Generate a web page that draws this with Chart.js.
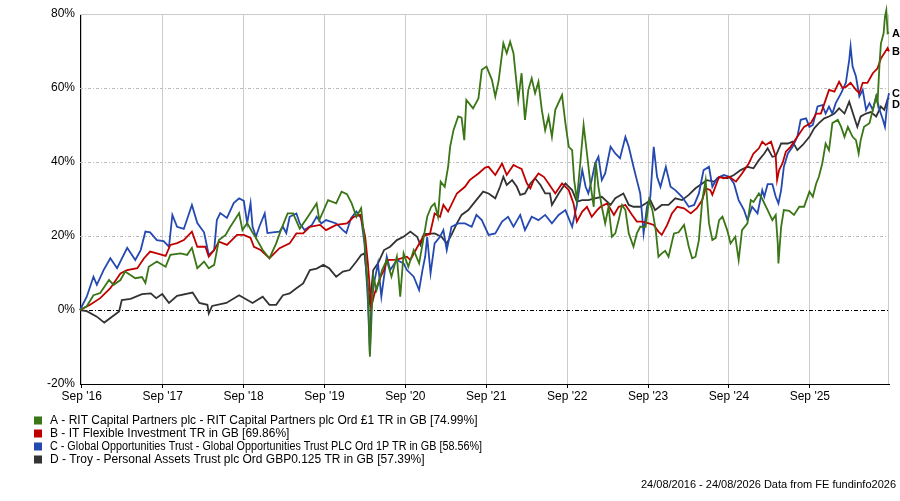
<!DOCTYPE html>
<html>
<head>
<meta charset="utf-8">
<script src="https://cdn.jsdelivr.net/npm/chart.js@4.4.1/dist/chart.umd.min.js"></script>
<style>
  html, body { margin: 0; padding: 0; background: #fff; }
  canvas { display: block; }
</style>
</head>
<body>
<canvas id="myChart" width="900" height="501"></canvas>
<script>
// x values are months since 24/08/2016, y values are cumulative total return in %
const tickMonths = [0.26, 12.26, 24.26, 36.26, 48.26, 60.26, 72.26, 84.26, 96.26, 108.26];
const tickLabels = ["Sep '16", "Sep '17", "Sep '18", "Sep '19", "Sep '20", "Sep '21", "Sep '22", "Sep '23", "Sep '24", "Sep '25"];
const yTicks = [-20, 0, 20, 40, 60, 80];

// A - RIT Capital Partners
const ritMonths = [0,1,2,3,4.3,5,6,6.7,8.2,9.2,9.7,10.2,11.4,12.7,13.4,14.9,15.9,16.6,17.4,18.4,19.1,19.9,20.6,21.6,22.3,23.6,24.1,24.8,25.5,26,27.1,28.1,29.1,29.8,30.8,31.6,32.6,33.8,35.1,35.5,36.8,38,38.8,39.6,40.3,41,41.7,42.2,42.7,43,43.5,44,44.8,45.5,46.2,47,47.5,48,48.7,49.5,50.3,51,51.5,52.1,52.6,53.1,53.5,54.1,54.6,54.9,55.4,56.1,56.6,57,57.3,58.3,59.1,59.6,60.3,61.1,61.6,62.1,62.8,63.3,63.8,64.3,65,65.5,66,66.5,67,67.5,68,68.5,69,69.5,70,70.5,71.5,72,72.5,73,73.3,73.7,74.2,74.7,75.2,75.7,76.2,76.5,76.9,77.4,77.9,78.4,78.9,79.4,79.9,80.4,80.9,81.4,82.1,82.6,83.1,83.9,84.4,84.9,85.4,85.8,86.3,86.8,87.3,88.1,88.8,89.6,90.3,90.8,91.3,91.8,92.3,92.8,93.3,93.8,94.3,94.8,95.3,96,96.5,97.2,97.7,98.2,99,99.5,99.9,100.7,101.2,102,102.7,103.2,103.5,103.6,104,104.4,105.2,105.9,106.7,107.4,108.2,108.7,109.2,109.6,110.1,110.6,111.1,111.6,112.4,112.9,113.4,113.9,114.6,115.1,115.5,115.8,116.3,117.1,117.6,118.1,118.3,118.6,118.8,119.2,119.4,119.6,119.8,120];
const ritValues = [0,1,4,4.6,8.1,6.8,8.1,10.4,8.6,8.9,7.3,11.7,13.1,11.7,14.9,15.3,14.9,16.8,11.3,13.1,11.3,12.2,18.9,20.3,22.5,26.2,21.6,23.5,21.2,19.8,16.2,14,18,21.6,26.1,26.1,22,25.2,28.8,24.3,29.7,28.8,32,31.3,28.8,25.2,27.5,18.9,6.3,-12.6,9,5.4,10.8,13.5,9,14.4,3.6,15.3,11.7,16.2,12.6,19.8,25.2,27.9,28.8,25.2,34.7,33.3,38.7,44.1,48.6,52.3,52,45.9,56.8,54.5,57.2,64.9,65.8,62.2,57.7,62,72.1,69.4,72.5,69.4,56.8,64,51.4,59.5,62.6,58.6,61.7,54.1,48.6,52.3,46.8,54.1,58.1,50.5,44.1,43.2,35.1,29.7,39.6,50,42.3,34.2,27.9,40,33.3,27.9,23.4,27.9,19.8,20.7,24.3,28.4,27,20.7,17.1,20.7,22.5,22.5,29.7,27,21.6,14.4,15.3,16,14.4,20.7,21,23,17.1,14,14.4,18.9,29.7,35.1,23.4,18.9,19.5,24.3,25.2,21.6,18,19.8,13.5,21.6,23.4,29.7,29.2,31.5,30,27,24.3,25.7,18,12.6,22.5,27,26.8,25.7,27.9,27.9,32,30.6,34.2,36,39.6,45,43.2,50.5,51.4,49.5,46.8,49.5,46.8,45.9,42.3,45.9,49.5,50.5,54.1,57.7,55.9,66.7,72,74.8,79.3,81,74.8,75];

// B - IT Flexible Investment
const flexMonths = [0,1.5,3,4.5,6,7,8.5,9.5,10.4,11.4,12.7,13.4,14.4,15.4,16.6,17.4,18.6,19.1,19.9,20.6,21.8,23.3,24.3,25.3,25.8,26.8,28.1,29.6,31.1,32.1,33.1,34.1,35.6,36.5,38,39.6,40.6,41.6,42.3,42.7,43.2,43.7,44.6,45.1,45.5,47,48.5,49,50,51,51.9,52.6,53.4,53.9,54.6,55.9,57.1,57.8,59.1,60.1,60.6,61.6,62.6,63.3,64.3,64.8,65.5,66.3,66.8,67.3,68,68.8,69.5,70.5,71.5,72.5,73.2,73.7,74.5,75.2,75.9,76.7,77.2,78.2,79.2,79.9,80.9,81.9,82.6,83.4,84.4,85.1,85.8,86.3,87.1,87.8,88.6,89.6,90.6,91.5,92.3,92.8,93.5,93.8,94.8,95.5,96.3,97.3,98.2,99.2,99.9,100.7,101.2,101.7,102.5,103.2,103.4,103.7,104.2,104.7,105.4,106.4,107.4,108.4,109.2,109.9,110.6,111.1,111.9,112.6,113.1,113.6,114.3,115.1,115.6,116.1,116.8,117.6,118.3,118.8,119.3,119.8,120];
const flexValues = [0,1.4,3.2,5.9,9.9,10.8,11.3,14,15.8,15.3,14.6,17.6,18.1,18.9,21.2,17.1,17.1,14.4,16.2,18.5,17.6,20.3,20.3,19.5,17.1,16.2,14,16.7,18,20.7,20.7,22.5,23,21.6,23,23.4,25.2,25.7,19.8,12.6,0.9,4.5,9,10.8,13.5,13.6,14.4,13.5,16.9,20.1,20.5,26.1,25.2,28.4,26.6,31.5,33.3,35.1,36.9,38.5,38.7,36.5,39.6,36.5,39.2,38.7,38.1,34.2,32.9,35.1,36.9,36,34.2,31.5,34.2,32.4,28.8,23.9,26.6,27.9,25.2,27,27.9,28.8,25.7,27.9,28.4,25.7,23.9,23.9,23.4,23,21.2,20.3,23,26.1,27.9,27.5,26.1,27.5,29.7,32.9,32.4,31.1,36,35.6,36,34.7,36.9,39.6,42.3,43.7,45.5,44.6,45.5,41.4,35.1,37.8,39.6,42.8,44.1,46.8,49.5,50.5,53.1,53.1,56.8,59.5,59,61.7,60,60.3,61.4,59.5,58.6,61.4,61.4,64,65.3,68,69.4,70.8,69.9];

// C - Global Opportunities Trust
const gotMonths = [0,1,2,2.5,3.5,4.5,5.5,7,8.2,9,9.7,10.4,11.4,12.4,13.2,13.7,14.4,15.4,16.6,17.4,18.4,19.1,19.9,20.3,20.8,21.8,22.8,23.6,24.3,24.8,25.3,25.6,26.1,26.6,27.4,27.8,28.6,29.6,30.1,30.6,31.1,32.1,32.6,33.3,34.4,35.1,35.8,36.5,38,39,39.5,40.2,41,41.7,42.2,42.7,43,43.2,43.7,44.2,44.7,45.5,46,47,48,48.5,49.5,50.3,50.8,51.2,51.5,52,52.6,53.4,53.9,54.4,55.1,56.1,57.1,58.1,58.8,59.6,60.6,61.6,62.6,63.5,64.3,65.3,66,67,68,69,70,71,72,73,73.7,74.5,75,75.4,75.9,76.4,76.9,77.4,77.9,78.7,79.4,80.1,80.9,81.4,82.1,82.6,83.1,83.6,84.1,84.6,85.1,85.6,86.1,86.9,87.6,88.3,89.3,90.3,91.1,91.8,92.5,93.3,93.8,94.5,95.5,96.3,97,97.7,98.5,99,99.7,100.5,101.2,101.5,102,102.7,103.2,103.6,104,104.4,105,105.7,106.4,106.9,107.7,108.2,108.7,109.4,110.1,110.6,111.1,111.6,112.1,112.9,113.6,114.1,114.3,114.6,115.1,115.6,116.1,116.6,117.1,117.6,118.1,118.6,119.1,119.4,119.8,120];
const gotValues = [0,3.6,9,6.8,10.8,14,11.3,16.8,13.5,16.2,21.2,21,18.9,18.6,17.1,25.7,22.5,21.9,28.4,23.5,21,14.9,16.2,24.3,26.2,24.9,28.9,30.2,29.5,23.5,28.9,22.5,19.8,22.5,26.1,20.8,21,21.2,22.5,20.8,25.2,26.1,23.4,21.6,23,25.2,23.4,24.3,23.4,21.6,20.8,24.8,26.6,24.8,18,2.7,-12,1.8,8.1,12.6,3.6,14.4,10.8,13.5,12.6,10.8,9,5.4,10.8,14.4,19.8,9.9,18,19.8,21.6,16.2,22.5,23.4,23.4,22.5,25.7,24.3,20.3,20.7,23.9,25.2,22.5,25.7,21.6,25.2,24.3,25.7,23.4,25.7,27,22.5,28.4,37.8,33.3,31.5,35.1,39.6,41.4,35.1,36.9,44.1,42.3,41,46.8,44.1,38.7,35.1,31.5,20.7,27.9,30.6,44.1,36,33.3,38.7,33.3,32.4,30.6,27.9,28.4,31.5,37.8,38.7,33.3,35.6,36.5,36,34.2,29.7,27,24.3,27.9,26.1,32.4,30.6,34,34,30.6,28.8,32.4,38.7,42.3,44.1,46.8,51.4,51.8,49.5,50,55,55.4,53.1,55,53.1,55.9,58.6,61.4,67.6,71.2,65.8,63.1,57.7,59.5,54.1,55.9,54.1,57.7,54.1,51.4,49.5,56.8,58.6];

// D - Troy Personal Assets Trust
const troyMonths = [0,1,2.5,3.6,5.8,6.2,7.5,9.2,10.5,11.3,12.2,13.2,14.4,16.7,17.7,18.9,19.1,19.6,21.7,23.6,25.6,26.3,27.1,28.1,29.1,30.1,31.1,32.1,33.1,34.1,35.1,36.1,37,38,39,40,41,41.7,42.2,42.7,43,43.5,44.2,45.1,46,47,48,49,50,50.5,51,52.6,53.6,54.4,55.1,55.9,56.6,57.6,58.6,59.8,60.6,61.6,62.3,62.8,63.3,64.1,64.8,65.3,66,66.8,67.5,68.3,69,69.7,70,71,72,73,73.7,74.5,75.4,76.4,77.4,78.7,79.4,80.6,81.4,82.1,83.1,83.9,84.6,85.3,86.3,87.3,88.3,89.3,90.3,91.3,92.3,93,94,95,96,97,98,99,99.9,100.7,101.5,102,102.7,103.2,104,105,105.7,106.4,107.2,108.2,108.9,109.6,110.4,111.1,111.9,112.6,113.4,114.1,114.8,115.3,115.8,116.6,117.3,118.1,118.8,119.3,119.8,120];
const troyValues = [0,-0.3,-1.8,-3.4,-0.4,2.7,3,4.3,4.5,3.2,4.3,1.9,3.8,4.7,1.9,1.4,-0.9,1.1,1.9,4,1.9,2.7,3.6,1.4,1.4,4,4.5,5.9,7.2,10.8,11.2,12.2,11.2,9,10.4,10.8,13.1,14.9,15.3,6.3,1.8,10.8,12.6,16.2,17.1,18.9,19.8,21.2,19.8,17.6,20.5,20.7,19.8,18,20.3,23.4,25.7,27,29.3,32,31.5,30.2,33.3,36,33.8,35.1,33.3,31.1,31.5,34.2,35.6,33.8,31.5,31.5,28.4,31.5,34.2,32.4,29.3,29.7,29.7,30.2,30.6,28.4,30.2,31.5,28.4,27.9,27.9,28.8,29.7,27,28.4,28.4,30.2,29.7,31.1,32.9,34.2,35.1,34.7,36,35.6,36.5,37.8,38.7,38.3,40.5,42.3,43.7,41.4,41.6,45,45,45.5,43.2,44.6,46.8,49.1,50.5,51.8,52.3,53.1,54.5,53.1,56.3,52.3,49.5,52.3,53.1,53.5,52.3,55,54.1,57,57.4];

const seriesLetters = ['A', 'B', 'C', 'D'];
const seriesColors = ['#3a7516', '#c00000', '#2449b0', '#333333'];
const legendLabels = [
  'A - RIT Capital Partners plc - RIT Capital Partners plc Ord £1 TR in GB [74.99%]',
  'B - IT Flexible Investment TR in GB [69.86%]',
  'C - Global Opportunities Trust - Global Opportunities Trust PLC Ord 1P TR in GB [58.56%]',
  'D - Troy - Personal Assets Trust plc Ord GBP0.125 TR in GB [57.39%]'
];
const footerText = '24/08/2016 - 24/08/2026 Data from FE fundinfo2026';
const fontFamily = '"Liberation Sans", Arial, sans-serif';

function toPoints(xs, ys) {
  return xs.map((x, i) => ({ x: x, y: ys[i] }));
}

const seriesPoints = [
  toPoints(ritMonths, ritValues),
  toPoints(flexMonths, flexValues),
  toPoints(gotMonths, gotValues),
  toPoints(troyMonths, troyValues)
];

// grid lines, end letters, legend and footer
const extras = {
  id: 'extras',
  beforeDatasetsDraw(chart) {
    const { ctx, chartArea: a, scales: { y } } = chart;
    ctx.save();
    ctx.lineWidth = 1;
    ctx.strokeStyle = '#cccccc';
    ctx.beginPath();
    ctx.moveTo(a.left, a.top + 0.5);
    ctx.lineTo(a.right - 0.5, a.top + 0.5);
    ctx.lineTo(a.right - 0.5, a.bottom);
    ctx.stroke();

    [20, 40, 60].forEach(v => {
      const py = Math.round(y.getPixelForValue(v)) + 0.5;
      ctx.strokeStyle = '#bbbbbb';
      ctx.setLineDash([3, 2, 1, 2]);
      ctx.beginPath();
      ctx.moveTo(a.left, py);
      ctx.lineTo(a.right, py);
      ctx.stroke();
    });

    const zy = Math.round(y.getPixelForValue(0)) + 0.5;
    ctx.strokeStyle = '#000000';
    ctx.setLineDash([4, 2, 1, 2]);
    ctx.beginPath();
    ctx.moveTo(a.left, zy);
    ctx.lineTo(a.right, zy);
    ctx.stroke();
    ctx.restore();
  },
  afterDraw(chart) {
    const { ctx, chartArea: a, scales: { y } } = chart;
    ctx.save();

    // letters at the right end of each line, pushed apart when they overlap
    const ends = seriesPoints.map((pts, i) => ({ i: i, py: y.getPixelForValue(pts[pts.length - 1].y) }));
    ends.sort((p, q) => p.py - q.py);
    for (let k = 1; k < ends.length; k++) {
      if (ends[k].py - ends[k - 1].py < 11) ends[k].py = ends[k - 1].py + 11;
    }
    ctx.font = 'bold 11px ' + fontFamily;
    ctx.fillStyle = '#000';
    ctx.textAlign = 'left';
    ctx.textBaseline = 'middle';
    ends.forEach(e => ctx.fillText(seriesLetters[e.i], a.right + 3, e.py + 1));

    // legend
    ctx.font = '12px ' + fontFamily;
    legendLabels.forEach((label, i) => {
      const ly = 420.5 + i * 13;
      ctx.fillStyle = seriesColors[i];
      ctx.fillRect(34, ly - 4, 8, 8);
      ctx.fillStyle = '#000';
      ctx.fillText(label, 50, ly, 432);
    });

    // footer
    ctx.font = '11px ' + fontFamily;
    ctx.textAlign = 'right';
    ctx.fillText(footerText, 896, 485);
    ctx.restore();
  }
};

window.onload = function() {
  const ctx = document.getElementById('myChart').getContext('2d');
  const perfChart = new Chart(ctx, {
    type: 'line',
    data: {
      datasets: seriesPoints.map((pts, i) => ({
        label: legendLabels[i],
        data: pts,
        borderColor: seriesColors[i],
        backgroundColor: seriesColors[i],
        borderWidth: 1.8,
        pointRadius: 0,
        tension: 0,
        fill: false,
        clip: false
      }))
    },
    options: {
      responsive: false,
      animation: false,
      layout: { padding: { top: 14, right: 11, bottom: 97, left: 0 } },
      plugins: { legend: { display: false }, tooltip: { enabled: false } },
      scales: {
        x: {
          type: 'linear',
          min: 0,
          max: 120,
          afterBuildTicks: s => { s.ticks = tickMonths.map(v => ({ value: v })); },
          afterFit: s => { s.height = 20; },
          ticks: {
            autoSkip: false,
            maxRotation: 0,
            padding: 1,
            color: '#000',
            font: { family: fontFamily, size: 12 },
            callback: (v, i) => tickLabels[i]
          },
          grid: { color: '#cccccc', lineWidth: 1, drawTicks: true, tickLength: 4, tickColor: '#000' },
          border: { display: true, color: '#000', width: 1 }
        },
        y: {
          min: -20,
          max: 80,
          afterBuildTicks: s => { s.ticks = yTicks.map(v => ({ value: v })); },
          afterFit: s => { s.width = 80; },
          ticks: {
            padding: 5,
            color: '#000',
            font: { family: fontFamily, size: 12 },
            callback: v => v + '%'
          },
          grid: { display: true, color: 'rgba(0,0,0,0)', drawTicks: false },
          border: { display: true, color: '#000', width: 1 }
        }
      }
    },
    plugins: [extras]
  });
};
</script>
</body>
</html>
